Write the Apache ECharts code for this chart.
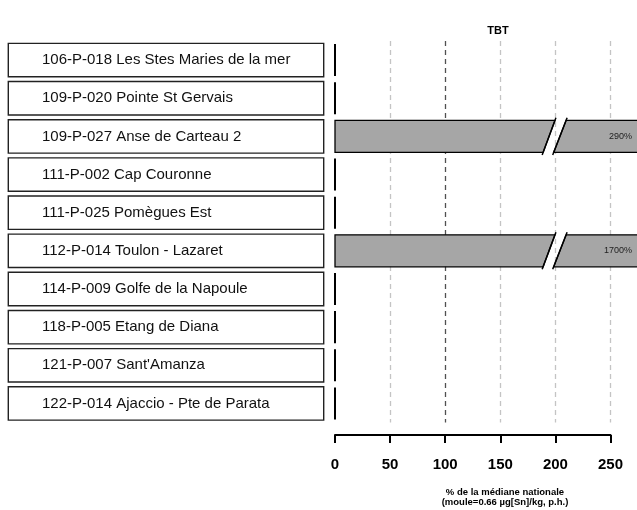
<!DOCTYPE html>
<html>
<head>
<meta charset="utf-8">
<script src="https://cdn.jsdelivr.net/npm/echarts@6/dist/echarts.min.js"></script>
<style>
  html, body { margin: 0; padding: 0; background: #fff; }
  #chart { width: 637px; height: 510px; }
</style>
</head>
<body>
<div id="chart"></div>
<script>
// Stations (top to bottom) and TBT level as % of the national median
const stations = [
  '106-P-018 Les Stes Maries de la mer',
  '109-P-020 Pointe St Gervais',
  '109-P-027 Anse de Carteau 2',
  '111-P-002 Cap Couronne',
  '111-P-025 Pomègues Est',
  '112-P-014 Toulon - Lazaret',
  '114-P-009 Golfe de la Napoule',
  '118-P-005 Etang de Diana',
  '121-P-007 Sant\'Amanza',
  '122-P-014 Ajaccio - Pte de Parata'
];
const tbtPercent = [0, 0, 290, 0, 0, 1700, 0, 0, 0, 0];
const tickValues = [0, 50, 100, 150, 200, 250];
const chartTitle = 'TBT';
const axisTitle = ['% de la médiane nationale', '(moule=0.66 µg[Sn]/kg, p.h.)'];

// Visible span of the bar axis and where long bars are cut
const X_VISIBLE_MAX = 274;
const BREAK = { leftTop: 199.6, leftBottom: 188.8, rightTop: 209.7, rightBottom: 198.4 };

const FONT = 'Liberation Sans, Arial, Helvetica, sans-serif';
const chart = echarts.init(document.getElementById('chart'), null, { renderer: 'canvas' });

function renderBar(params, api) {
  const row = api.value(0);
  const val = api.value(1);
  const base = api.coord([0, row]);
  const band = api.size([0, 1])[1];
  const h = band * 0.84;
  const y0 = base[1] - h / 2;
  const y1 = base[1] + h / 2;
  const x0 = base[0];
  if (!val) {
    return {
      type: 'line',
      shape: { x1: x0, y1: y0, x2: x0, y2: y1 },
      style: { stroke: '#000', lineWidth: 2 }
    };
  }
  const fill = '#a6a6a6';
  const edge = { stroke: '#000', lineWidth: 1.3 };
  const xLimit = api.coord([X_VISIBLE_MAX, row])[0];
  const xEnd = Math.min(api.coord([val, row])[0], xLimit);
  const children = [];
  if (val <= BREAK.leftBottom) {
    children.push({ type: 'rect', shape: { x: x0, y: y0, width: xEnd - x0, height: h },
      style: Object.assign({ fill: fill }, edge) });
  } else {
    const lt = api.coord([BREAK.leftTop, row])[0];
    const lb = api.coord([BREAK.leftBottom, row])[0];
    const rt = api.coord([BREAK.rightTop, row])[0];
    const rb = api.coord([BREAK.rightBottom, row])[0];
    const right = val > X_VISIBLE_MAX ? xEnd + 3 : xEnd;
    children.push({ type: 'polygon', shape: { points: [[x0, y0], [lt, y0], [lb, y1], [x0, y1]] },
      style: Object.assign({ fill: fill }, edge) });
    children.push({ type: 'polygon', shape: { points: [[rt, y0], [right, y0], [right, y1], [rb, y1]] },
      style: Object.assign({ fill: fill }, edge) });
    const ext = 2.5;
    const sl = (lt - lb) / h;
    const sr = (rt - rb) / h;
    children.push({ type: 'line', shape: { x1: lt + sl * ext, y1: y0 - ext, x2: lb - sl * ext, y2: y1 + ext },
      style: { stroke: '#000', lineWidth: 1.5 } });
    children.push({ type: 'line', shape: { x1: rt + sr * ext, y1: y0 - ext, x2: rb - sr * ext, y2: y1 + ext },
      style: { stroke: '#000', lineWidth: 1.5 } });
  }
  children.push({
    type: 'text',
    x: xLimit - 5, y: base[1],
    style: { text: val + '%', align: 'right', verticalAlign: 'middle',
      fontSize: 9, fontFamily: FONT, fill: '#222' }
  });
  return { type: 'group', children: children };
}

const gridTop = 41;
const gridHeight = 381.5;
const scaleMin = tickValues[0];
const scaleMax = tickValues[tickValues.length - 1];
const scaleStep = tickValues[1] - tickValues[0];

const option = {
  animation: false,
  backgroundColor: '#fff',
  title: [
    { text: chartTitle, left: 493, top: 20, textAlign: 'center',
      textStyle: { fontSize: 11, fontWeight: 'bold', fontFamily: FONT, color: '#000' } },
    { text: axisTitle.join('\n'), left: 500, top: 483, textAlign: 'center',
      textStyle: { fontSize: 9.5, fontWeight: 'bold', fontFamily: FONT, color: '#000', lineHeight: 9.5 } }
  ],
  grid: [
    // bars
    { left: 335, right: 0, top: gridTop, height: gridHeight, containLabel: false },
    // dashed reference lines
    { left: 335, width: 275.5, top: gridTop, height: gridHeight, containLabel: false },
    // value axis below the rows
    { left: 335, width: 275.5, top: gridTop, height: gridHeight + 12.5, containLabel: false }
  ],
  xAxis: [
    { gridIndex: 0, type: 'value', min: 0, max: X_VISIBLE_MAX, show: false },
    {
      gridIndex: 1, type: 'value', min: scaleMin, max: scaleMax, interval: scaleStep,
      axisLine: { show: false }, axisTick: { show: false }, axisLabel: { show: false },
      splitLine: { show: true, lineStyle: {
        color: ['rgba(0,0,0,0)', '#c4c4c4', '#505050', '#c4c4c4', '#c4c4c4', '#c4c4c4'],
        width: 1.3, type: [5, 4] } }
    },
    {
      gridIndex: 2, type: 'value', min: scaleMin, max: scaleMax, interval: scaleStep, position: 'bottom',
      axisLine: { show: true, lineStyle: { color: '#000', width: 2 } },
      axisTick: { show: true, length: 8, lineStyle: { color: '#000', width: 2 } },
      axisLabel: { show: true, margin: 22, fontSize: 15, fontWeight: 'bold', fontFamily: FONT,
        color: '#000', showMinLabel: true, showMaxLabel: true },
      splitLine: { show: false }
    }
  ],
  yAxis: [
    {
      gridIndex: 0, type: 'category', data: stations, inverse: true,
      axisLine: { show: false }, axisTick: { show: false }, splitLine: { show: false },
      axisLabel: {
        interval: 0, margin: 326, align: 'left', fontSize: 15, fontFamily: FONT, color: '#111',
        backgroundColor: '#fff', borderColor: '#222', borderWidth: 1.4,
        padding: [0, 0, 0, 33], width: 281, height: 32, lineHeight: 32, overflow: 'none'
      }
    },
    { gridIndex: 1, type: 'value', min: 0, max: 1, show: false },
    { gridIndex: 2, type: 'value', min: 0, max: 1, show: false }
  ],
  series: [
    {
      type: 'custom', xAxisIndex: 0, yAxisIndex: 0, clip: false,
      renderItem: renderBar,
      encode: { x: 1, y: 0 },
      data: stations.map((s, i) => [i, tbtPercent[i]])
    }
  ]
};
chart.setOption(option);
</script>
</body>
</html>
